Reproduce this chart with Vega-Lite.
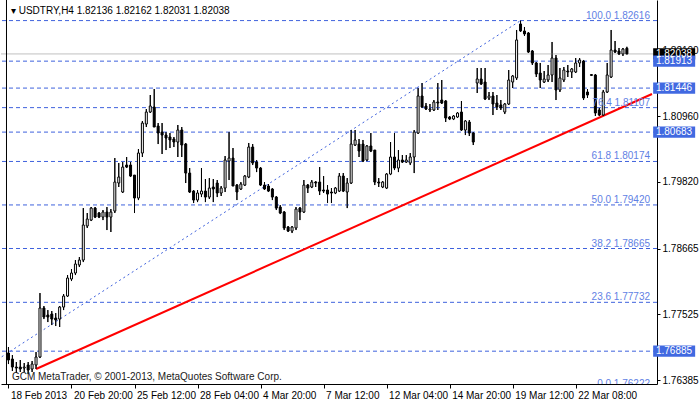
{
  "$schema": "https://vega.github.io/schema/vega-lite/v6.json",
  "width": 656,
  "height": 384,
  "autosize": "none",
  "padding": {"left": 1, "top": 0, "right": 43, "bottom": 18},
  "background": "white",
  "config": {
    "view": {"stroke": null},
    "font": "Liberation Sans",
    "axis": {"labelFont": "Liberation Sans", "labelFontSize": 10, "labelColor": "black", "domainColor": "black", "tickColor": "black", "grid": false, "title": null, "zindex": 0}
  },
  "datasets": {
    "candles": [
      {"k":0,"o":1.76853,"h":1.76957,"l":1.76662,"c":1.76732},
      {"k":1,"o":1.76749,"h":1.76818,"l":1.76541,"c":1.76610},
      {"k":2,"o":1.76610,"h":1.76697,"l":1.76506,"c":1.76593},
      {"k":3,"o":1.76610,"h":1.76732,"l":1.76524,"c":1.76576},
      {"k":4,"o":1.76593,"h":1.76680,"l":1.76524,"c":1.76610},
      {"k":5,"o":1.76645,"h":1.76697,"l":1.76489,"c":1.76558},
      {"k":6,"o":1.76576,"h":1.76714,"l":1.76524,"c":1.76662},
      {"k":7,"o":1.76645,"h":1.76870,"l":1.76576,"c":1.76784},
      {"k":8,"o":1.76784,"h":1.77893,"l":1.76766,"c":1.77633},
      {"k":9,"o":1.77633,"h":1.77668,"l":1.77442,"c":1.77477},
      {"k":10,"o":1.77512,"h":1.77598,"l":1.77390,"c":1.77477},
      {"k":11,"o":1.77529,"h":1.77581,"l":1.77338,"c":1.77442},
      {"k":12,"o":1.77460,"h":1.77546,"l":1.77321,"c":1.77425},
      {"k":13,"o":1.77442,"h":1.77668,"l":1.77304,"c":1.77650},
      {"k":14,"o":1.77650,"h":1.77876,"l":1.77598,"c":1.77841},
      {"k":15,"o":1.77841,"h":1.78205,"l":1.77824,"c":1.78153},
      {"k":16,"o":1.78136,"h":1.78309,"l":1.78101,"c":1.78240},
      {"k":17,"o":1.78240,"h":1.78465,"l":1.78205,"c":1.78396},
      {"k":18,"o":1.78379,"h":1.78517,"l":1.78344,"c":1.78465},
      {"k":19,"o":1.78465,"h":1.79366,"l":1.78430,"c":1.79072},
      {"k":20,"o":1.79055,"h":1.79280,"l":1.79020,"c":1.79176},
      {"k":21,"o":1.79158,"h":1.79384,"l":1.79141,"c":1.79366},
      {"k":22,"o":1.79366,"h":1.79384,"l":1.79193,"c":1.79210},
      {"k":23,"o":1.79280,"h":1.79297,"l":1.79193,"c":1.79210},
      {"k":24,"o":1.79210,"h":1.79332,"l":1.79158,"c":1.79297},
      {"k":25,"o":1.79297,"h":1.79384,"l":1.78985,"c":1.79210},
      {"k":26,"o":1.79210,"h":1.79349,"l":1.78951,"c":1.79297},
      {"k":27,"o":1.79314,"h":1.80233,"l":1.79280,"c":1.79817},
      {"k":28,"o":1.79800,"h":1.80147,"l":1.79731,"c":1.79904},
      {"k":29,"o":1.79644,"h":1.80164,"l":1.79627,"c":1.80077},
      {"k":30,"o":1.80112,"h":1.80251,"l":1.80060,"c":1.80077},
      {"k":31,"o":1.80112,"h":1.80164,"l":1.79904,"c":1.79921},
      {"k":32,"o":1.79938,"h":1.79938,"l":1.79280,"c":1.79540},
      {"k":33,"o":1.79540,"h":1.80389,"l":1.79505,"c":1.80320},
      {"k":34,"o":1.80320,"h":1.80875,"l":1.80251,"c":1.80840},
      {"k":35,"o":1.80823,"h":1.81083,"l":1.80771,"c":1.81031},
      {"k":36,"o":1.81031,"h":1.81326,"l":1.81014,"c":1.81135},
      {"k":37,"o":1.81118,"h":1.81430,"l":1.80771,"c":1.80771},
      {"k":38,"o":1.80788,"h":1.80840,"l":1.80476,"c":1.80667},
      {"k":39,"o":1.80684,"h":1.80840,"l":1.80303,"c":1.80632},
      {"k":40,"o":1.80632,"h":1.80684,"l":1.80372,"c":1.80580},
      {"k":41,"o":1.80598,"h":1.80667,"l":1.80407,"c":1.80546},
      {"k":42,"o":1.80563,"h":1.80598,"l":1.80424,"c":1.80511},
      {"k":43,"o":1.80511,"h":1.80806,"l":1.80251,"c":1.80719},
      {"k":44,"o":1.80719,"h":1.80771,"l":1.80251,"c":1.80459},
      {"k":45,"o":1.80476,"h":1.80494,"l":1.79800,"c":1.79973},
      {"k":46,"o":1.79973,"h":1.80060,"l":1.79627,"c":1.79644},
      {"k":47,"o":1.79661,"h":1.79679,"l":1.79453,"c":1.79505},
      {"k":48,"o":1.79505,"h":1.79679,"l":1.79470,"c":1.79627},
      {"k":49,"o":1.79609,"h":1.80060,"l":1.79557,"c":1.79661},
      {"k":50,"o":1.79661,"h":1.79869,"l":1.79470,"c":1.79557},
      {"k":51,"o":1.79557,"h":1.79886,"l":1.79523,"c":1.79713},
      {"k":52,"o":1.79731,"h":1.79869,"l":1.79470,"c":1.79696},
      {"k":53,"o":1.79800,"h":1.79852,"l":1.79557,"c":1.79627},
      {"k":54,"o":1.79627,"h":1.79748,"l":1.79575,"c":1.79713},
      {"k":55,"o":1.79713,"h":1.80268,"l":1.79644,"c":1.80199},
      {"k":56,"o":1.80181,"h":1.80684,"l":1.79852,"c":1.80233},
      {"k":57,"o":1.80233,"h":1.80407,"l":1.79748,"c":1.79748},
      {"k":58,"o":1.79765,"h":1.79783,"l":1.79505,"c":1.79644},
      {"k":59,"o":1.79696,"h":1.79817,"l":1.79679,"c":1.79783},
      {"k":60,"o":1.79765,"h":1.79938,"l":1.79748,"c":1.79921},
      {"k":61,"o":1.79904,"h":1.80494,"l":1.79886,"c":1.80424},
      {"k":62,"o":1.80424,"h":1.80476,"l":1.80112,"c":1.80147},
      {"k":63,"o":1.80164,"h":1.80199,"l":1.79990,"c":1.80060},
      {"k":64,"o":1.80060,"h":1.80077,"l":1.79748,"c":1.79765},
      {"k":65,"o":1.79765,"h":1.79817,"l":1.79679,"c":1.79696},
      {"k":66,"o":1.79748,"h":1.79783,"l":1.79644,"c":1.79661},
      {"k":67,"o":1.79696,"h":1.79713,"l":1.79505,"c":1.79557},
      {"k":68,"o":1.79557,"h":1.79575,"l":1.79332,"c":1.79366},
      {"k":69,"o":1.79384,"h":1.79418,"l":1.79262,"c":1.79280},
      {"k":70,"o":1.79297,"h":1.79314,"l":1.78985,"c":1.79020},
      {"k":71,"o":1.79037,"h":1.79055,"l":1.78951,"c":1.78968},
      {"k":72,"o":1.78968,"h":1.79055,"l":1.78933,"c":1.79037},
      {"k":73,"o":1.79020,"h":1.79384,"l":1.78985,"c":1.79349},
      {"k":74,"o":1.79366,"h":1.79384,"l":1.79158,"c":1.79297},
      {"k":75,"o":1.79297,"h":1.79852,"l":1.79280,"c":1.79765},
      {"k":76,"o":1.79765,"h":1.79783,"l":1.79627,"c":1.79713},
      {"k":77,"o":1.79731,"h":1.79852,"l":1.79713,"c":1.79817},
      {"k":78,"o":1.79817,"h":1.79834,"l":1.79731,"c":1.79800},
      {"k":79,"o":1.79817,"h":1.80077,"l":1.79592,"c":1.79661},
      {"k":80,"o":1.79679,"h":1.79921,"l":1.79627,"c":1.79661},
      {"k":81,"o":1.79679,"h":1.79765,"l":1.79453,"c":1.79609},
      {"k":82,"o":1.79644,"h":1.79713,"l":1.79453,"c":1.79627},
      {"k":83,"o":1.79627,"h":1.79731,"l":1.79609,"c":1.79713},
      {"k":84,"o":1.79661,"h":1.79973,"l":1.79644,"c":1.79921},
      {"k":85,"o":1.79921,"h":1.79973,"l":1.79644,"c":1.79661},
      {"k":86,"o":1.79644,"h":1.79886,"l":1.79366,"c":1.79800},
      {"k":87,"o":1.79800,"h":1.80719,"l":1.79783,"c":1.80476},
      {"k":88,"o":1.80459,"h":1.80719,"l":1.80442,"c":1.80546},
      {"k":89,"o":1.80476,"h":1.80563,"l":1.80251,"c":1.80355},
      {"k":90,"o":1.80476,"h":1.80546,"l":1.80164,"c":1.80181},
      {"k":91,"o":1.80199,"h":1.80459,"l":1.80181,"c":1.80442},
      {"k":92,"o":1.80442,"h":1.80667,"l":1.80337,"c":1.80355},
      {"k":93,"o":1.80372,"h":1.80372,"l":1.79765,"c":1.79817},
      {"k":94,"o":1.79817,"h":1.79886,"l":1.79731,"c":1.79800},
      {"k":95,"o":1.79731,"h":1.79834,"l":1.79713,"c":1.79817},
      {"k":96,"o":1.79713,"h":1.79973,"l":1.79696,"c":1.79956},
      {"k":97,"o":1.79956,"h":1.80511,"l":1.79938,"c":1.80251},
      {"k":98,"o":1.80251,"h":1.80667,"l":1.80025,"c":1.80060},
      {"k":99,"o":1.80060,"h":1.80372,"l":1.79990,"c":1.80199},
      {"k":100,"o":1.80199,"h":1.80285,"l":1.80147,"c":1.80164},
      {"k":101,"o":1.80164,"h":1.80285,"l":1.80147,"c":1.80199},
      {"k":102,"o":1.80147,"h":1.80320,"l":1.80112,"c":1.80251},
      {"k":103,"o":1.80251,"h":1.80719,"l":1.79973,"c":1.80684},
      {"k":104,"o":1.80667,"h":1.81447,"l":1.80650,"c":1.81309},
      {"k":105,"o":1.81309,"h":1.81534,"l":1.81101,"c":1.81118},
      {"k":106,"o":1.81135,"h":1.81187,"l":1.81066,"c":1.81083},
      {"k":107,"o":1.81066,"h":1.81170,"l":1.81031,"c":1.81083},
      {"k":108,"o":1.81066,"h":1.81239,"l":1.81049,"c":1.81205},
      {"k":109,"o":1.81205,"h":1.81534,"l":1.81066,"c":1.81187},
      {"k":110,"o":1.81239,"h":1.81586,"l":1.81170,"c":1.81187},
      {"k":111,"o":1.81222,"h":1.81239,"l":1.80858,"c":1.80927},
      {"k":112,"o":1.80944,"h":1.80962,"l":1.80892,"c":1.80910},
      {"k":113,"o":1.80910,"h":1.80979,"l":1.80892,"c":1.80962},
      {"k":114,"o":1.80944,"h":1.81031,"l":1.80927,"c":1.81014},
      {"k":115,"o":1.81031,"h":1.81222,"l":1.80702,"c":1.80719},
      {"k":116,"o":1.80719,"h":1.80892,"l":1.80632,"c":1.80875},
      {"k":117,"o":1.80858,"h":1.80892,"l":1.80615,"c":1.80667},
      {"k":118,"o":1.80667,"h":1.80684,"l":1.80459,"c":1.80511},
      {"k":119,"o":1.81534,"h":1.81794,"l":1.81361,"c":1.81603},
      {"k":120,"o":1.81603,"h":1.81794,"l":1.81500,"c":1.81517},
      {"k":121,"o":1.81551,"h":1.81794,"l":1.81239,"c":1.81257},
      {"k":122,"o":1.81274,"h":1.81378,"l":1.81239,"c":1.81309},
      {"k":123,"o":1.81309,"h":1.81378,"l":1.80979,"c":1.81170},
      {"k":124,"o":1.81187,"h":1.81326,"l":1.81066,"c":1.81118},
      {"k":125,"o":1.81153,"h":1.81239,"l":1.81066,"c":1.81101},
      {"k":126,"o":1.81031,"h":1.81187,"l":1.80996,"c":1.81170},
      {"k":127,"o":1.81170,"h":1.81759,"l":1.81153,"c":1.81586},
      {"k":128,"o":1.81551,"h":1.81673,"l":1.81447,"c":1.81655},
      {"k":129,"o":1.81621,"h":1.82453,"l":1.81586,"c":1.82280},
      {"k":130,"o":1.82557,"h":1.82616,"l":1.82418,"c":1.82436},
      {"k":131,"o":1.82436,"h":1.82505,"l":1.82349,"c":1.82384},
      {"k":132,"o":1.82401,"h":1.82418,"l":1.82054,"c":1.82071},
      {"k":133,"o":1.82089,"h":1.82106,"l":1.81846,"c":1.81881},
      {"k":134,"o":1.81881,"h":1.81898,"l":1.81638,"c":1.81690},
      {"k":135,"o":1.81707,"h":1.81881,"l":1.81447,"c":1.81586},
      {"k":136,"o":1.81551,"h":1.81742,"l":1.81534,"c":1.81603},
      {"k":137,"o":1.81586,"h":1.81846,"l":1.81551,"c":1.81673},
      {"k":138,"o":1.81673,"h":1.82245,"l":1.81551,"c":1.81967},
      {"k":139,"o":1.81967,"h":1.82019,"l":1.81239,"c":1.81413},
      {"k":140,"o":1.81413,"h":1.81794,"l":1.81378,"c":1.81621},
      {"k":141,"o":1.81586,"h":1.81811,"l":1.81551,"c":1.81759},
      {"k":142,"o":1.81742,"h":1.81846,"l":1.81638,"c":1.81725},
      {"k":143,"o":1.81725,"h":1.81794,"l":1.81621,"c":1.81777},
      {"k":144,"o":1.81725,"h":1.81967,"l":1.81707,"c":1.81881},
      {"k":145,"o":1.81881,"h":1.81967,"l":1.81811,"c":1.81933},
      {"k":146,"o":1.81915,"h":1.81933,"l":1.81239,"c":1.81274},
      {"k":147,"o":1.81378,"h":1.81430,"l":1.81274,"c":1.81326},
      {"k":148,"o":1.81680,"h":1.81690,"l":1.81655,"c":1.81666},
      {"k":149,"o":1.81673,"h":1.81690,"l":1.80962,"c":1.81014},
      {"k":150,"o":1.81066,"h":1.81101,"l":1.80962,"c":1.80979},
      {"k":151,"o":1.80979,"h":1.81413,"l":1.80962,"c":1.81378},
      {"k":152,"o":1.81378,"h":1.81881,"l":1.81361,"c":1.81673},
      {"k":153,"o":1.81638,"h":1.82453,"l":1.81621,"c":1.82106},
      {"k":154,"o":1.82106,"h":1.82262,"l":1.82054,"c":1.82071},
      {"k":155,"o":1.82089,"h":1.82141,"l":1.82019,"c":1.82037},
      {"k":156,"o":1.82037,"h":1.82141,"l":1.82002,"c":1.82123},
      {"k":157,"o":1.82136,"h":1.82162,"l":1.82031,"c":1.82038}
    ],
    "levels": [
      {"p":1.82616},{"p":1.81913},{"p":1.81446},{"p":1.81107},{"p":1.80683},
      {"p":1.80174},{"p":1.79420},{"p":1.78665},{"p":1.77732},{"p":1.76885},{"p":1.76222}
    ],
    "fib": [
      {"p":1.82616,"lab":"100.0 1.82616"},
      {"p":1.81107,"lab":"76.4 1.81107"},
      {"p":1.80174,"lab":"61.8 1.80174"},
      {"p":1.79420,"lab":"50.0 1.79420"},
      {"p":1.78665,"lab":"38.2 1.78665"},
      {"p":1.77732,"lab":"23.6 1.77732"},
      {"p":1.76222,"lab":"0.0 1.76222"}
    ],
    "boxes": [
      {"p":1.82038,"kind":"bid"},
      {"p":1.81913,"kind":"line"},
      {"p":1.81446,"kind":"line"},
      {"p":1.80683,"kind":"line"},
      {"p":1.76885,"kind":"line"}
    ],
    "fibdiag": [{"k":-14.5,"p":1.76222},{"k":130,"p":1.82616}],
    "trend": [{"k":7,"p":1.76576},{"k":163.375,"p":1.81343}]
  },
  "layer": [
    {
      "data": {"name": "candles"},
      "mark": {"type": "rule", "color": "black", "strokeWidth": 1},
      "encoding": {
        "x": {"field": "k", "type": "quantitative", "title": null, "scale": {"domain": [-0.625, 163.375], "nice": false, "zero": false},
          "axis": {"orient": "bottom", "title": null, "zindex": 0, "values": [0, 16, 32, 48, 64, 80, 96, 112, 128, 144],
            "labelExpr": "['18 Feb 2013','20 Feb 20:00','25 Feb 12:00','28 Feb 04:00','4 Mar 20:00','7 Mar 12:00','12 Mar 04:00','14 Mar 20:00','19 Mar 12:00','22 Mar 08:00'][round(datum.value/16)]",
            "labelAlign": "left", "labelOffset": 2, "labelPadding": 2, "tickSize": 4, "labelFlush": false, "labelOverlap": false, "labelBaseline": "top"}},
        "y": {"field": "l", "type": "quantitative", "title": null, "scale": {"domain": [1.76316, 1.82973], "nice": false, "zero": false},
          "axis": {"orient": "right", "title": null, "zindex": 0, "values": [1.8267, 1.821, 1.8153, 1.8096, 1.8039, 1.7982, 1.7925, 1.78665, 1.78095, 1.77525, 1.76955, 1.76385],
            "format": ".5f", "tickSize": 3, "labelPadding": 2, "labelOverlap": false, "labelFlush": false}},
        "y2": {"field": "h"}
      }
    },
    {
      "data": {"name": "levels"},
      "mark": {"type": "rule", "color": "#3f62dd", "strokeWidth": 1, "strokeDash": [4, 3], "clip": true},
      "encoding": {
        "y": {"field": "p", "type": "quantitative", "title": null}
      }
    },
    {
      "data": {"values": [{"p": 1.82038}]},
      "mark": {"type": "rule", "color": "#c0c0c0", "strokeWidth": 1},
      "encoding": {
        "y": {"field": "p", "type": "quantitative", "title": null}
      }
    },
    {
      "data": {"name": "fibdiag"},
      "mark": {"type": "line", "color": "#3f62dd", "strokeWidth": 1, "strokeDash": [2, 3], "clip": true},
      "encoding": {
        "x": {"field": "k", "type": "quantitative", "title": null},
        "y": {"field": "p", "type": "quantitative", "title": null}
      }
    },
    {
      "data": {"name": "trend"},
      "mark": {"type": "line", "color": "#ff0000", "strokeWidth": 2, "clip": true},
      "encoding": {
        "x": {"field": "k", "type": "quantitative", "title": null},
        "y": {"field": "p", "type": "quantitative", "title": null}
      }
    },
    {
      "data": {"name": "candles"},
      "mark": {"type": "rule", "color": "black", "strokeWidth": 1},
      "encoding": {
        "x": {"field": "k", "type": "quantitative", "title": null},
        "y": {"field": "l", "type": "quantitative", "title": null},
        "y2": {"field": "h"}
      }
    },
    {
      "data": {"name": "candles"},
      "mark": {"type": "bar", "size": 2, "stroke": "black", "strokeWidth": 1},
      "encoding": {
        "x": {"field": "k", "type": "quantitative", "title": null},
        "y": {"field": "o", "type": "quantitative", "title": null},
        "y2": {"field": "c"},
        "fill": {"condition": {"test": "datum.c >= datum.o", "value": "white"}, "value": "black"}
      }
    },
    {
      "data": {"values": [{"e": 0}]},
      "mark": {"type": "rule", "color": "black", "strokeWidth": 1},
      "encoding": {
        "x": {"datum": -0.5, "type": "quantitative", "title": null}
      }
    },
    {
      "data": {"name": "fib"},
      "mark": {"type": "text", "align": "right", "baseline": "alphabetic", "dx": -2, "dy": -2, "fontSize": 10, "color": "#5f7fe4", "clip": true},
      "encoding": {
        "x": {"datum": 163.375, "type": "quantitative", "title": null},
        "y": {"field": "p", "type": "quantitative", "title": null},
        "text": {"field": "lab"}
      }
    },
    {
      "data": {"name": "boxes"},
      "mark": {"type": "point", "shape": "M-1,-0.27L1,-0.27L1,0.27L-1,0.27Z", "size": 1764, "filled": true, "opacity": 1, "strokeWidth": 0},
      "encoding": {
        "x": {"datum": 169, "type": "quantitative", "title": null},
        "y": {"field": "p", "type": "quantitative", "title": null},
        "color": {"condition": {"test": "datum.kind == 'bid'", "value": "black"}, "value": "#4169e1"}
      }
    },
    {
      "data": {"name": "boxes"},
      "mark": {"type": "text", "align": "left", "baseline": "middle", "fontSize": 10, "color": "white"},
      "encoding": {
        "x": {"datum": 164.375, "type": "quantitative", "title": null},
        "y": {"field": "p", "type": "quantitative", "title": null},
        "text": {"field": "p", "type": "quantitative", "format": ".5f"}
      }
    },
    {
      "data": {"values": [{"t": "▾ USDTRY,H4  1.82136 1.82162 1.82031 1.82038"}]},
      "mark": {"type": "text", "align": "left", "baseline": "alphabetic", "fontSize": 10, "color": "black", "font": "Liberation Sans, DejaVu Sans"},
      "encoding": {
        "x": {"datum": 0.625, "type": "quantitative", "title": null},
        "y": {"datum": 1.8273, "type": "quantitative", "title": null},
        "text": {"field": "t"}
      }
    },
    {
      "data": {"values": [{"t": "GCM MetaTrader, © 2001-2013, MetaQuotes Software Corp."}]},
      "mark": {"type": "text", "align": "left", "baseline": "alphabetic", "fontSize": 10, "color": "#1a1a1a"},
      "encoding": {
        "x": {"datum": 0.875, "type": "quantitative", "title": null},
        "y": {"datum": 1.76385, "type": "quantitative", "title": null},
        "text": {"field": "t"}
      }
    }
  ]
}
